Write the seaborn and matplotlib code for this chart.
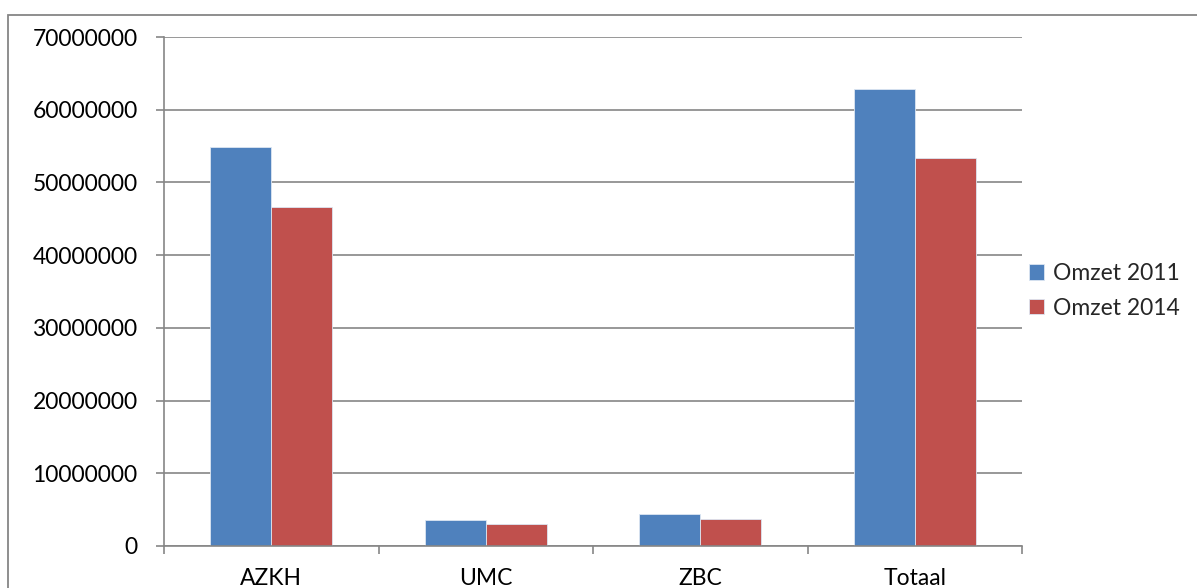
import matplotlib
matplotlib.use("Agg")
import matplotlib.pyplot as plt
from matplotlib.patches import Rectangle
from matplotlib.ticker import FixedLocator, NullFormatter
import seaborn as sns
import pandas as pd

categories = ["AZKH", "UMC", "ZBC", "Totaal"]
series_names = ["Omzet 2011", "Omzet 2014"]
omzet_2011 = [54900000, 3580000, 4360000, 62800000]
omzet_2014 = [46600000, 3070000, 3670000, 53300000]
y_ticks = [0, 10000000, 20000000, 30000000, 40000000, 50000000, 60000000, 70000000]

colors = ["#4F81BD", "#C0504D"]
grid_color = "#868686"

df = pd.DataFrame({
    "categorie": categories * 2,
    "serie": [series_names[0]] * 4 + [series_names[1]] * 4,
    "omzet": omzet_2011 + omzet_2014,
})

sns.set_style("white")
plt.rcParams["font.family"] = ["Lato", "DejaVu Sans"]
fs = 16.5

fig = plt.figure(figsize=(11.97, 5.88), dpi=100)
ax = fig.add_axes([164 / 1197, 1 - 546 / 588, (1022 - 164) / 1197, (546 - 37) / 588])

sns.barplot(data=df, x="categorie", y="omzet", hue="serie", order=categories,
            hue_order=series_names, palette=colors, width=0.57, ax=ax,
            edgecolor="#dce6f2", linewidth=0.6, saturation=1, legend=True)

ax.set_xlim(-0.5, 3.5)
ax.set_ylim(0, 70000000)
ax.set_yticks(y_ticks)
ax.set_yticklabels([str(v) for v in y_ticks], fontsize=fs, color="black")
ax.yaxis.grid(True, color=grid_color, linewidth=1.2)
ax.set_axisbelow(True)
ax.set_xlabel("")
ax.set_ylabel("")

for side in ["top", "right"]:
    ax.spines[side].set_visible(False)
for side in ["left", "bottom"]:
    ax.spines[side].set_color(grid_color)
    ax.spines[side].set_linewidth(1.2)

ax.tick_params(axis="y", which="major", length=6, width=1.2, color=grid_color,
               pad=13, left=True)
ax.tick_params(axis="x", which="major", length=0, pad=16, labelsize=fs,
               labelcolor="black")
ax.xaxis.set_minor_locator(FixedLocator([-0.5, 0.5, 1.5, 2.5, 3.5]))
ax.xaxis.set_minor_formatter(NullFormatter())
ax.tick_params(axis="x", which="minor", length=6, width=1.2, color=grid_color,
               bottom=True)

handles, labels = ax.get_legend_handles_labels()
ax.legend_.remove()
fig.legend(handles, labels, loc="center left",
           bbox_to_anchor=(1020 / 1197, 1 - 291 / 588), frameon=False,
           fontsize=fs, handlelength=0.65, handleheight=0.65,
           handletextpad=0.4, labelspacing=0.6, borderaxespad=0)

# outer chart frame
fig.patches.append(Rectangle((8 / 1197, -0.1), 1.2, 1 - 15 / 588 + 0.1,
                             transform=fig.transFigure, fill=False,
                             edgecolor=grid_color, linewidth=1.3))

fig.savefig("out.png", dpi=100)
